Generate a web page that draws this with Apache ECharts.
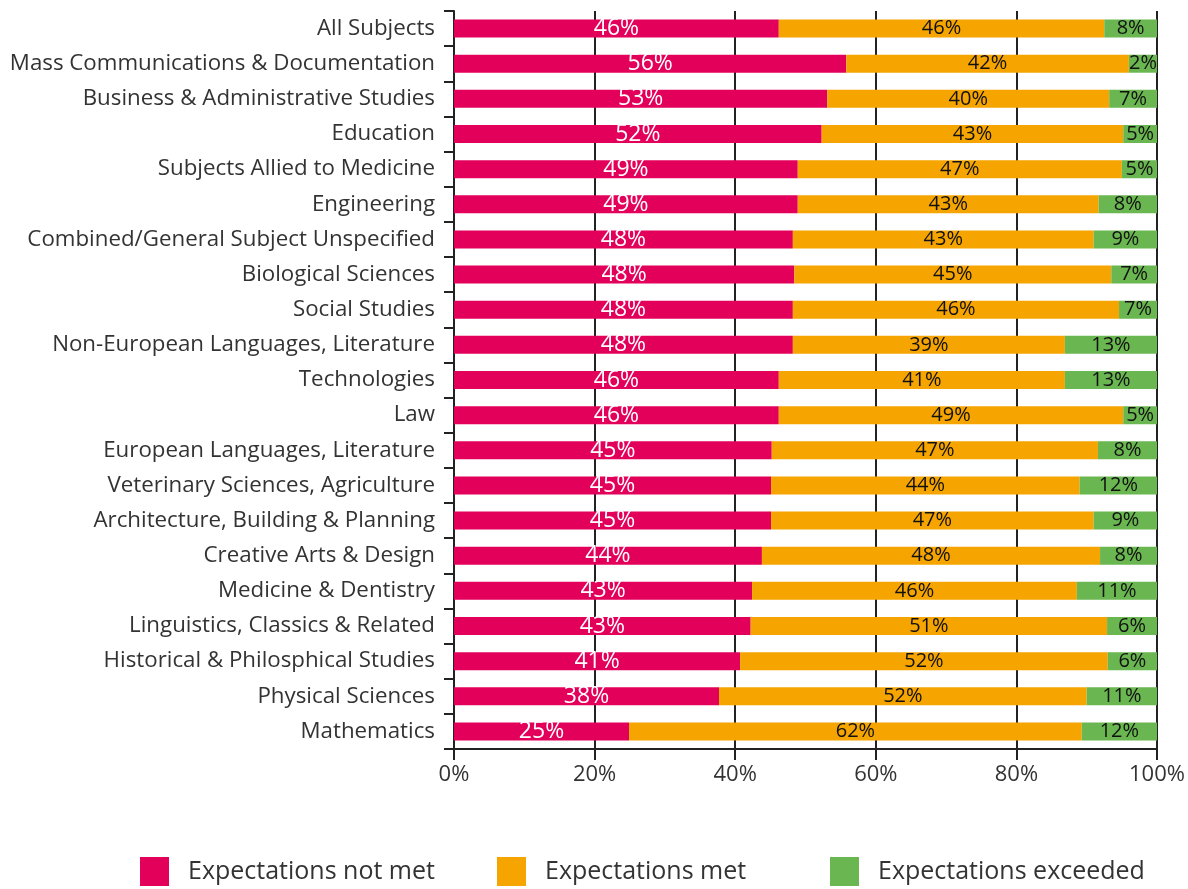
<!DOCTYPE html>
<html>
<head>
<meta charset="utf-8">
<title>Expectations by subject</title>
<script src="https://cdn.jsdelivr.net/npm/echarts@6/dist/echarts.min.js"></script>
<style>
    html, body { margin: 0; padding: 0; background: #fff; }
    #main { width: 1188px; height: 889px; }
</style>
</head>
<body>
<div id="main"></div>
<script>
    // categories, top to bottom
    var subjects = [
        'All Subjects', 'Mass Communications & Documentation', 'Business & Administrative Studies',
        'Education', 'Subjects Allied to Medicine', 'Engineering',
        'Combined/General Subject Unspecified', 'Biological Sciences', 'Social Studies',
        'Non-European Languages, Literature', 'Technologies', 'Law',
        'European Languages, Literature', 'Veterinary Sciences, Agriculture',
        'Architecture, Building & Planning', 'Creative Arts & Design', 'Medicine & Dentistry',
        'Linguistics, Classics & Related', 'Historical & Philosphical Studies',
        'Physical Sciences', 'Mathematics'
    ];

    // bar lengths (%)
    var notMet   = [46.2, 55.8, 53.1, 52.3, 48.9, 48.9, 48.2, 48.4, 48.2, 48.2, 46.2, 46.2, 45.2, 45.1, 45.1, 43.8, 42.4, 42.2, 40.7, 37.7, 24.9];
    var met      = [46.3, 40.2, 40.1, 42.9, 46.1, 42.8, 42.8, 45.1, 46.4, 38.7, 40.7, 49.0, 46.4, 43.9, 45.9, 48.1, 46.2, 50.7, 52.3, 52.3, 64.4];
    var exceeded = [7.5, 4.0, 6.8, 4.8, 5.0, 8.3, 9.0, 6.5, 5.4, 13.1, 13.1, 4.8, 8.4, 11.0, 9.0, 8.1, 11.4, 7.1, 7.0, 10.0, 10.7];

    // printed labels (as shown on the bars)
    var notMetLabels   = [46, 56, 53, 52, 49, 49, 48, 48, 48, 48, 46, 46, 45, 45, 45, 44, 43, 43, 41, 38, 25];
    var metLabels      = [46, 42, 40, 43, 47, 43, 43, 45, 46, 39, 41, 49, 47, 44, 47, 48, 46, 51, 52, 52, 62];
    var exceededLabels = [8, 2, 7, 5, 5, 8, 9, 7, 7, 13, 13, 5, 8, 12, 9, 8, 11, 6, 6, 11, 12];

    var seriesNames = ['Expectations not met', 'Expectations met', 'Expectations exceeded'];
    var colors = ['#e3005b', '#f5a400', '#6ab650'];
    var FONT = "'Open Sans', sans-serif";

    function makeSeries(i, values, labels, labelColor, labelSize) {
        return {
            name: seriesNames[i],
            type: 'bar',
            stack: 'total',
            barWidth: 18,
            itemStyle: { color: colors[i] },
            label: {
                show: true,
                position: 'inside',
                color: labelColor,
                fontFamily: FONT,
                fontSize: labelSize,
                formatter: function (p) { return labels[p.dataIndex] + '%'; }
            },
            emphasis: { disabled: true },
            data: values
        };
    }

    function legendAt(i, left) {
        return {
            data: [seriesNames[i]],
            left: left,
            bottom: -2,
            itemWidth: 29,
            itemHeight: 29,
            itemGap: 0,
            icon: 'rect',
            selectedMode: false,
            textStyle: { fontFamily: FONT, fontSize: 25, color: '#333', padding: [0, 0, 0, 14] }
        };
    }

    var option = {
        animation: false,
        textStyle: { fontFamily: FONT },
        legend: [legendAt(0, 135), legendAt(1, 492), legendAt(2, 825)],
        grid: { left: 454, right: 31, top: 11, bottom: 140, containLabel: false },
        xAxis: {
            type: 'value',
            min: 0,
            max: 100,
            interval: 20,
            axisLine: { show: true, lineStyle: { color: '#222', width: 2 } },
            axisTick: { show: true, length: 11, lineStyle: { color: '#222', width: 2 } },
            axisLabel: { color: '#333', fontSize: 22, fontFamily: FONT, margin: 15, formatter: '{value}%' },
            splitLine: { show: true, lineStyle: { color: '#222', width: 2 } }
        },
        yAxis: {
            type: 'category',
            inverse: true,
            data: subjects,
            axisLine: { show: true, lineStyle: { color: '#222', width: 2 } },
            axisTick: { show: true, length: 10, lineStyle: { color: '#222', width: 2 } },
            axisLabel: { color: '#333', fontSize: 22.3, fontFamily: FONT, margin: 19 }
        },
        series: [
            makeSeries(0, notMet, notMetLabels, '#fff', 23),
            makeSeries(1, met, metLabels, '#111', 20),
            makeSeries(2, exceeded, exceededLabels, '#111', 20)
        ]
    };

    var myChart = echarts.init(document.getElementById('main'));
    myChart.setOption(option);
</script>
</body>
</html>
